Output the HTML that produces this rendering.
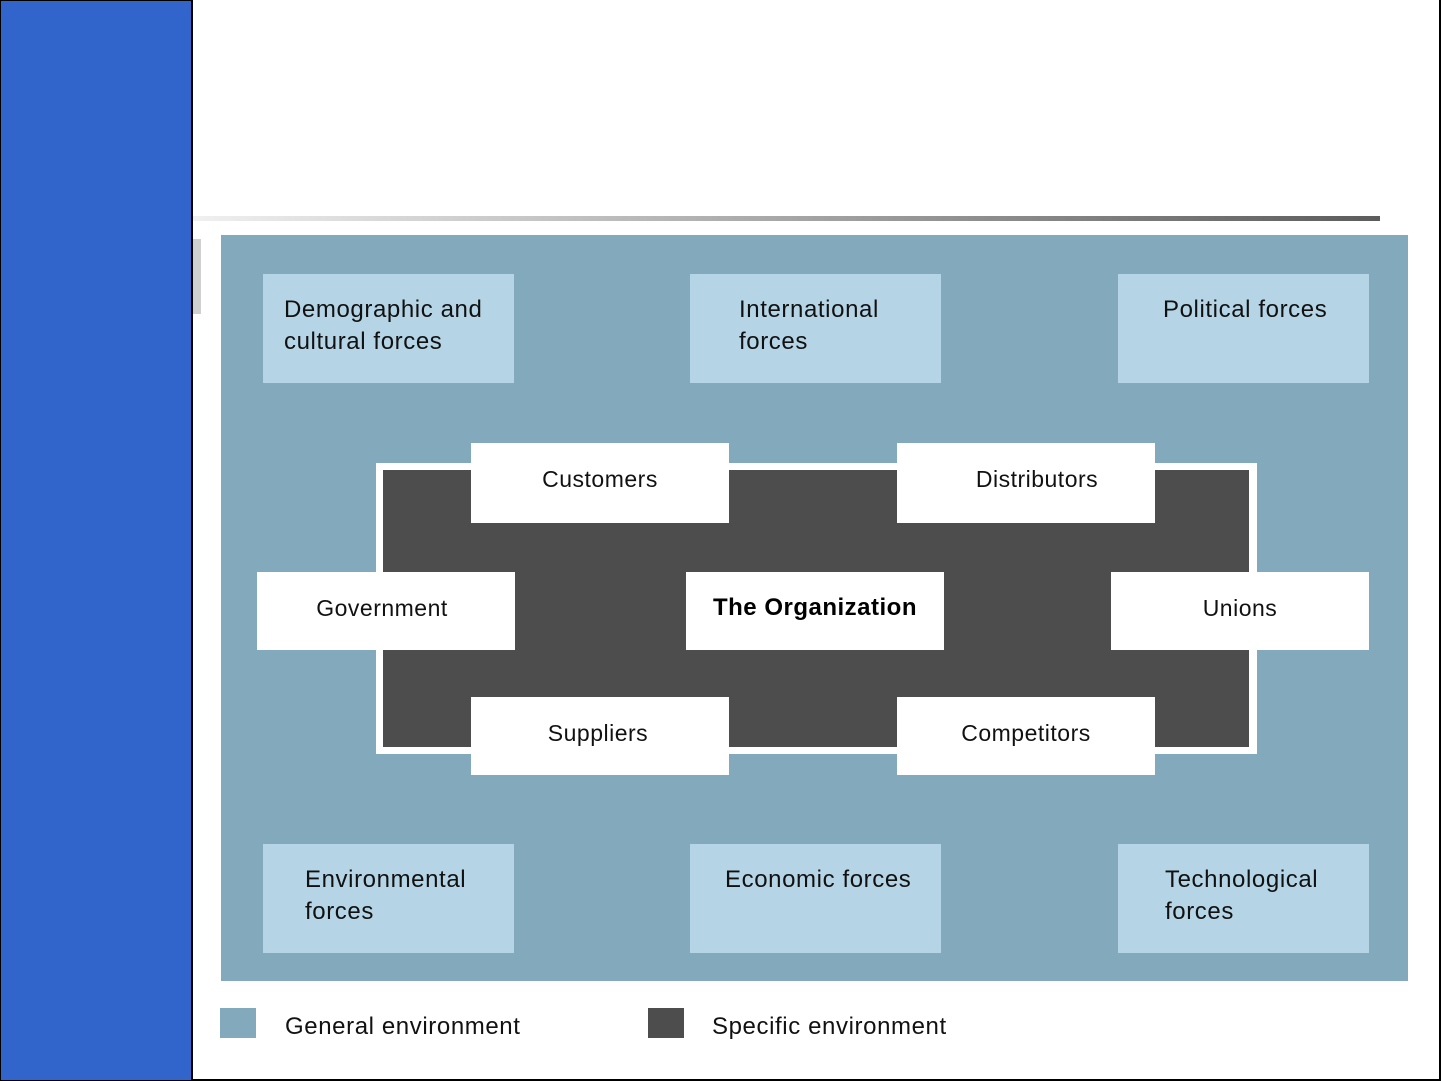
<!DOCTYPE html>
<html><head><meta charset="utf-8"><style>
body{margin:0;width:1441px;height:1081px;position:relative;background:#fff;overflow:hidden;font-family:"Liberation Sans",sans-serif;}
div{position:absolute;box-sizing:border-box;}
.l{background:#b5d5e6;font-size:24px;color:#111;line-height:32px;letter-spacing:0.6px;}
.w{background:#fff;font-size:23px;color:#111;text-align:center;line-height:72px;letter-spacing:0.5px;}
</style></head><body>
<div style="left:0;top:0;width:193px;height:1081px;background:#3165cc;border:1px solid #000;border-right:2px solid #000;"></div>
<div style="left:1439px;top:0;width:2px;height:1081px;background:#000;"></div>
<div style="left:193px;top:1079px;width:1248px;height:2px;background:#000;"></div>
<div style="left:193px;top:216px;width:1187px;height:5px;background:linear-gradient(to right,#f0f0f0,#5c5c5c);"></div>
<div style="left:193px;top:239px;width:8px;height:75px;background:#d0d0d0;"></div>
<div style="left:221px;top:235px;width:1187px;height:746px;background:#82aabc;"></div>
<div class="l" style="left:263px;top:274px;width:251px;height:109px;padding:20px 0 0 21px;">Demographic and<br>cultural forces</div>
<div class="l" style="left:690px;top:274px;width:251px;height:109px;padding:20px 0 0 49px;">International<br>forces</div>
<div class="l" style="left:1118px;top:274px;width:251px;height:109px;padding:20px 0 0 45px;">Political forces</div>
<div class="l" style="left:263px;top:844px;width:251px;height:109px;padding:20px 0 0 42px;">Environmental<br>forces</div>
<div class="l" style="left:690px;top:844px;width:251px;height:109px;padding:20px 0 0 35px;">Economic forces</div>
<div class="l" style="left:1118px;top:844px;width:251px;height:109px;padding:20px 0 0 47px;">Technological<br>forces</div>
<div style="left:376px;top:463px;width:881px;height:291px;background:#4d4d4d;border:7px solid #fff;border-right-width:8px;"></div>
<div class="w" style="left:471px;top:443px;width:258px;height:80px;">Customers</div>
<div class="w" style="left:897px;top:443px;width:258px;height:80px;padding-left:22px;">Distributors</div>
<div class="w" style="left:257px;top:572px;width:258px;height:78px;padding-right:8px;">Government</div>
<div class="w" style="left:686px;top:572px;width:258px;height:78px;font-weight:bold;font-size:24px;color:#000;">The Organization</div>
<div class="w" style="left:1111px;top:572px;width:258px;height:78px;">Unions</div>
<div class="w" style="left:471px;top:697px;width:258px;height:78px;padding-right:4px;">Suppliers</div>
<div class="w" style="left:897px;top:697px;width:258px;height:78px;">Competitors</div>
<div style="left:220px;top:1008px;width:36px;height:30px;background:#82aabc;"></div>
<div style="left:285px;top:1013px;font-size:24px;color:#111;letter-spacing:0.6px;">General environment</div>
<div style="left:648px;top:1008px;width:36px;height:30px;background:#4d4d4d;"></div>
<div style="left:712px;top:1013px;font-size:24px;color:#111;letter-spacing:0.6px;">Specific environment</div>
</body></html>
